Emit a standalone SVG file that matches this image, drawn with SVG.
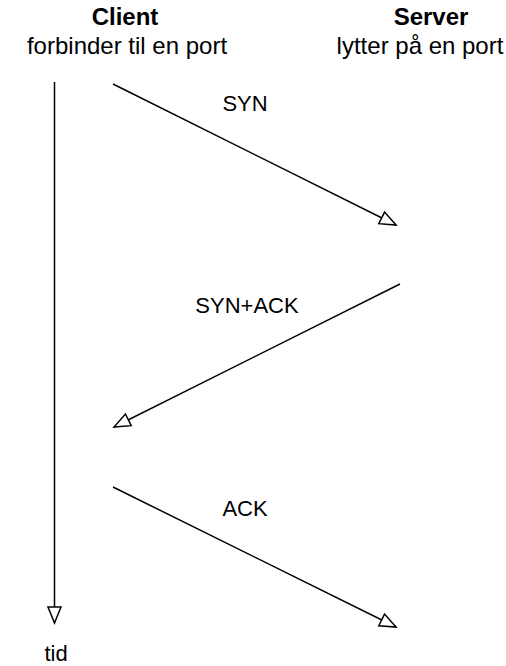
<svg xmlns="http://www.w3.org/2000/svg" width="506" height="666" viewBox="0 0 506 666">
<style>
text{font-family:"Liberation Sans",Arial,Helvetica,sans-serif;font-size:22px;fill:#000;text-anchor:middle}
.h{font-size:24px}
.b{font-weight:bold}
.ln{stroke:#000;stroke-width:1.5;fill:none;marker-end:url(#ah)}
</style>
<defs>
<marker id="ah" markerUnits="userSpaceOnUse" markerWidth="22" markerHeight="18" viewBox="-19 -9 22 18" refX="0" refY="0" orient="auto">
<path d="M0,0 L-16,-6.5 L-16,6.5 Z" fill="#fff" stroke="#000" stroke-width="1.5" stroke-linejoin="miter"/>
</marker>
</defs>
<rect width="506" height="666" fill="#fff"/>
<g id="client">
<text x="125" y="25" class="h b">Client</text>
<text x="127" y="54" class="h">forbinder til en port</text>
</g>
<g id="server">
<text x="431" y="25" class="h b">Server</text>
<text x="420" y="54" class="h">lytter på en port</text>
</g>
<g id="connectors">
<line class="ln" x1="54.5" y1="82" x2="54.5" y2="623"/>
<line class="ln" x1="113" y1="84" x2="396" y2="225"/>
<line class="ln" x1="400" y1="284" x2="114" y2="427"/>
<line class="ln" x1="113" y1="487" x2="396" y2="627"/>
</g>
<g id="labels">
<text x="245" y="111" class="l">SYN</text>
<text x="247" y="313" class="l">SYN+ACK</text>
<text x="245" y="516" class="l">ACK</text>
<text x="56" y="661">tid</text>
</g>
</svg>
